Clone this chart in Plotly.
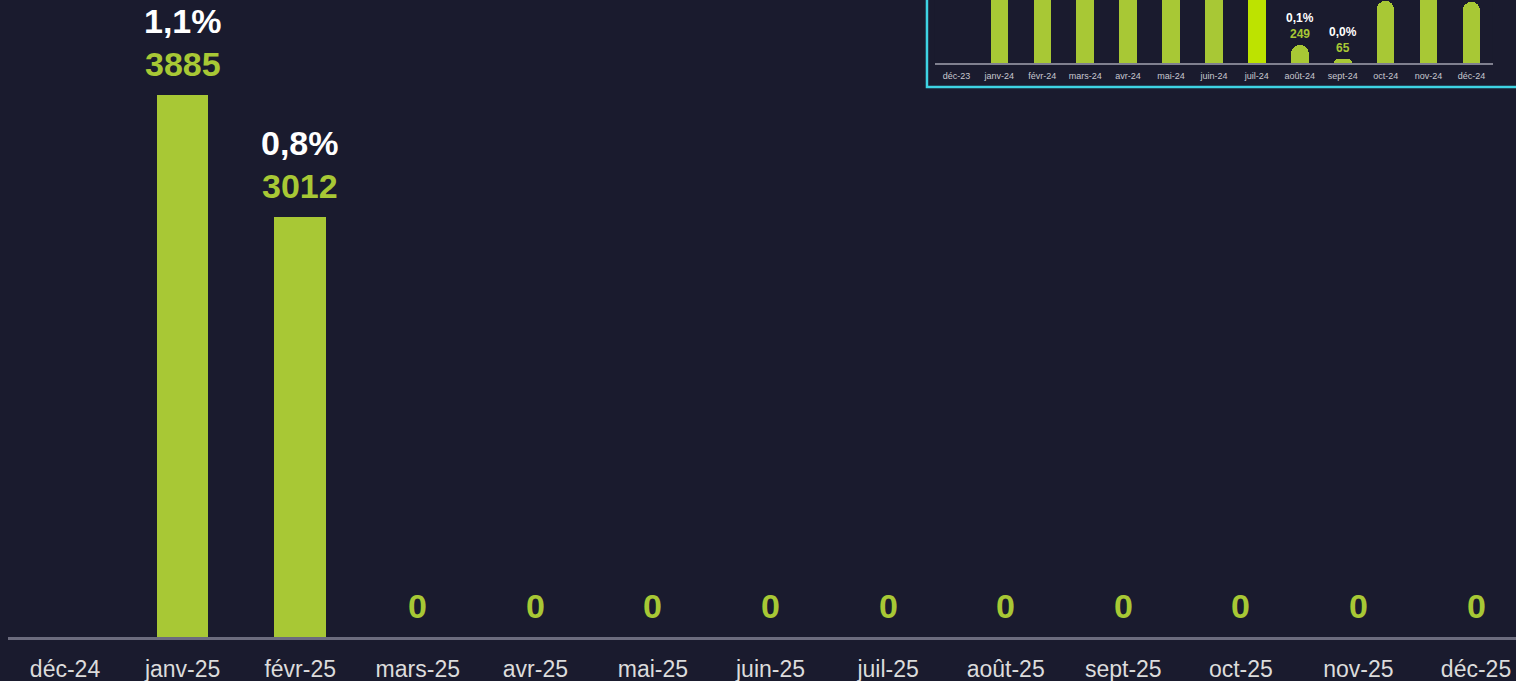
import plotly.graph_objects as go

# ---- data ----
main_months = ["déc-24", "janv-25", "févr-25", "mars-25", "avr-25", "mai-25", "juin-25",
               "juil-25", "août-25", "sept-25", "oct-25", "nov-25", "déc-25"]
main_values = [None, 3885, 3012, 0, 0, 0, 0, 0, 0, 0, 0, 0, 0]
main_pct = ["", "1,1%", "0,8%", "", "", "", "", "", "", "", "", "", ""]

inset_months = ["déc-23", "janv-24", "févr-24", "mars-24", "avr-24", "mai-24", "juin-24",
                "juil-24", "août-24", "sept-24", "oct-24", "nov-24", "déc-24"]
inset_values = [None, 2950, 2700, 2450, 2300, 2150, 1950, 2500, 249, 65, 860, 1250, 850]
# labels only readable (not cropped) for these months in the reference
inset_pct = [None, None, None, None, None, None, None, None, "0,1%", "0,0%",
             None, None, None]
highlight_month = "juil-24"

# ---- style ----
BG = "#1a1b2e"
GREEN = "#a8c835"
LIME = "#bde300"
CYAN = "#3ed3e3"
FONT = "Liberation Sans"

fig = go.Figure()

fig.add_trace(go.Bar(
    x=main_months, y=main_values, width=0.44,
    marker=dict(color=GREEN, line=dict(width=0)),
    xaxis="x", yaxis="y", hoverinfo="skip", showlegend=False,
))

inset_colors = [LIME if m == highlight_month else GREEN for m in inset_months]
fig.add_trace(go.Bar(
    x=inset_months, y=inset_values, width=0.41,
    marker=dict(color=inset_colors, line=dict(width=0), cornerradius="50%"),
    xaxis="x2", yaxis="y2", hoverinfo="skip", showlegend=False,
))

annotations = []
for m, v, p in zip(main_months, main_values, main_pct):
    if v is None:
        continue
    annotations.append(dict(x=m, y=v, xref="x", yref="y", text=f"{v}", showarrow=False,
                            yanchor="middle", yshift=31,
                            font=dict(family=FONT, size=34, color=GREEN, weight="bold")))
    if p:
        annotations.append(dict(x=m, y=v, xref="x", yref="y", text=p, showarrow=False,
                                yanchor="middle", yshift=74,
                                font=dict(family=FONT, size=34, color="#ffffff", weight="bold")))

for m, v, p in zip(inset_months, inset_values, inset_pct):
    if v is None or p is None:
        continue
    annotations.append(dict(x=m, y=v, xref="x2", yref="y2", text=f"{v}", showarrow=False,
                            yanchor="middle", yshift=11,
                            font=dict(family=FONT, size=12, color=GREEN, weight="bold")))
    annotations.append(dict(x=m, y=v, xref="x2", yref="y2", text=p, showarrow=False,
                            yanchor="middle", yshift=27,
                            font=dict(family=FONT, size=12, color="#ffffff", weight="bold")))

fig.update_layout(
    width=1516, height=681,
    margin=dict(l=8, r=0, t=0, b=44),
    paper_bgcolor=BG, plot_bgcolor=BG,
    bargap=0,
    xaxis=dict(domain=[0, 1], range=[-0.485, 12.34], showline=True, linewidth=3,
               linecolor="#6c6c7e", showgrid=False, zeroline=False, ticks="",
               ticklabelstandoff=9,
               tickfont=dict(family=FONT, size=23, color="#dcdcdc"), fixedrange=True),
    yaxis=dict(domain=[0, 1], range=[0, 4566], visible=False, showgrid=False,
               zeroline=False, fixedrange=True),
    xaxis2=dict(domain=[0.6147, 0.9847], anchor="y2", showline=True, linewidth=1.5,
                linecolor="#80808f", showgrid=False, zeroline=False, ticks="",
                ticklabelstandoff=3,
                tickfont=dict(family=FONT, size=9, color="#c8c8d0"), fixedrange=True),
    yaxis2=dict(domain=[0.9006, 1], anchor="x2", range=[0, 880], visible=False,
                showgrid=False, zeroline=False, fixedrange=True),
    annotations=annotations,
    shapes=[dict(type="rect", xref="paper", yref="paper",
                 x0=0.6094, x1=1.05, y0=0.8634, y1=1.05,
                 line=dict(color=CYAN, width=2.5), fillcolor="rgba(0,0,0,0)", layer="above")],
)

fig.write_html(
    "out.html",
    config={"displayModeBar": False},
    post_script=f"document.body.style.margin='0';document.body.style.background='{BG}';"
                "document.body.style.overflow='hidden';",
)
